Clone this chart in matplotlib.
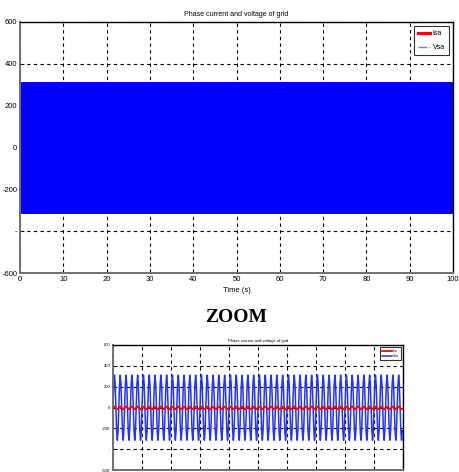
import matplotlib.pyplot as plt
import numpy as np

# values
title = "Phase current and voltage of grid"
n_cycles_main = 5000      # 100 s of 50 Hz grid
n_cycles_zoom = 50        # zoomed window, 1 s
t_main_end = 100
t_zoom_end = 1
# one period of each signal, sampled at 8 points (V and A)
vsa_cycle = [0, 220, 311, 220, 0, -222, -314, -222]
isa_cycle = [-2, 6, 10, 6, -4, -12, -18, -12]
yticks = [-600, -400, -200, 0, 200, 400, 600]
ytick_labels = ["-600", "-", "-200", "0", "200", "400", "600"]
xticks_main = [0, 10, 20, 30, 40, 50, 60, 70, 80, 90, 100]

fonts = ['Liberation Sans Narrow', 'Liberation Sans', 'DejaVu Sans']
plt.rcParams['font.family'] = fonts

W, H = 459, 472
fig = plt.figure(figsize=(W / 100, H / 100), dpi=100)


def px_axes(l, t, r, b):
    return fig.add_axes([l / W, 1 - b / H, (r - l) / W, (b - t) / H])


def style(ax, fs):
    ax.set_ylim(-600, 600)
    ax.set_yticks(yticks)
    ax.set_yticklabels(ytick_labels)
    ax.grid(True, color='black', linestyle=(0, (3, 3)), linewidth=0.8)
    ax.tick_params(direction='in', labelsize=fs, length=3, width=0.6, pad=2)
    for s in ['top', 'right']:
        ax.spines[s].set_color('black')
        ax.spines[s].set_linewidth(1.0)
    for s in ['left', 'bottom']:
        ax.spines[s].set_color('#707070')
        ax.spines[s].set_linewidth(1.4)


# main plot
ax = px_axes(20, 22, 453, 273)
n = len(vsa_cycle)
t = np.linspace(0, t_main_end, n_cycles_main * n, endpoint=False)
ax.plot(t, np.tile(isa_cycle, n_cycles_main), color='red', lw=2.2, label='Isa')
ax.plot(t, np.tile(vsa_cycle, n_cycles_main), color='blue', lw=0.25,
        linestyle='-', label='_v')
ax.plot([], [], color='#6f7fff', lw=1.0, linestyle='-.', label='Vsa')
ax.set_xlim(0, t_main_end)
ax.set_xticks(xticks_main)
style(ax, 5.5)
ax.set_title(title, fontsize=5, pad=4)
ax.set_xlabel('Time (s)', fontsize=5.5, labelpad=3)
leg = ax.legend(loc='upper right', fontsize=5, frameon=True, fancybox=False,
                edgecolor='black', handlelength=1.8, borderpad=0.6,
                labelspacing=1.0, handletextpad=0.3, borderaxespad=0.6)
leg.get_frame().set_linewidth(0.8)

fig.text(236 / W, 1 - 318 / H, 'ZOOM', ha='center', va='center',
         fontsize=14, fontweight='bold', family='Liberation Serif')

# zoomed inset
az = px_axes(113, 345, 403, 470)
tz = np.linspace(0, t_zoom_end, n_cycles_zoom * n, endpoint=False)
az.plot(tz, np.tile(vsa_cycle, n_cycles_zoom), color='#2233ff', lw=1.1,
        label='Vsa', zorder=2)
az.plot(tz, np.tile(isa_cycle, n_cycles_zoom), color='red', lw=1.3,
        label='Isa', zorder=3)
az.set_xlim(0, t_zoom_end)
az.set_xticks(np.linspace(0, t_zoom_end, 11))
az.set_xticklabels([])
style(az, 3)
az.set_title(title, fontsize=3, pad=2)
h, l = az.get_legend_handles_labels()
lz = az.legend(h[::-1], l[::-1], loc='upper right', fontsize=2.5,
               frameon=True, fancybox=False, edgecolor='black',
               handlelength=3, borderpad=0.5, labelspacing=0.4,
               handletextpad=0.3, borderaxespad=0.6)
lz.get_frame().set_linewidth(0.8)

fig.savefig('out.png', dpi=100)
